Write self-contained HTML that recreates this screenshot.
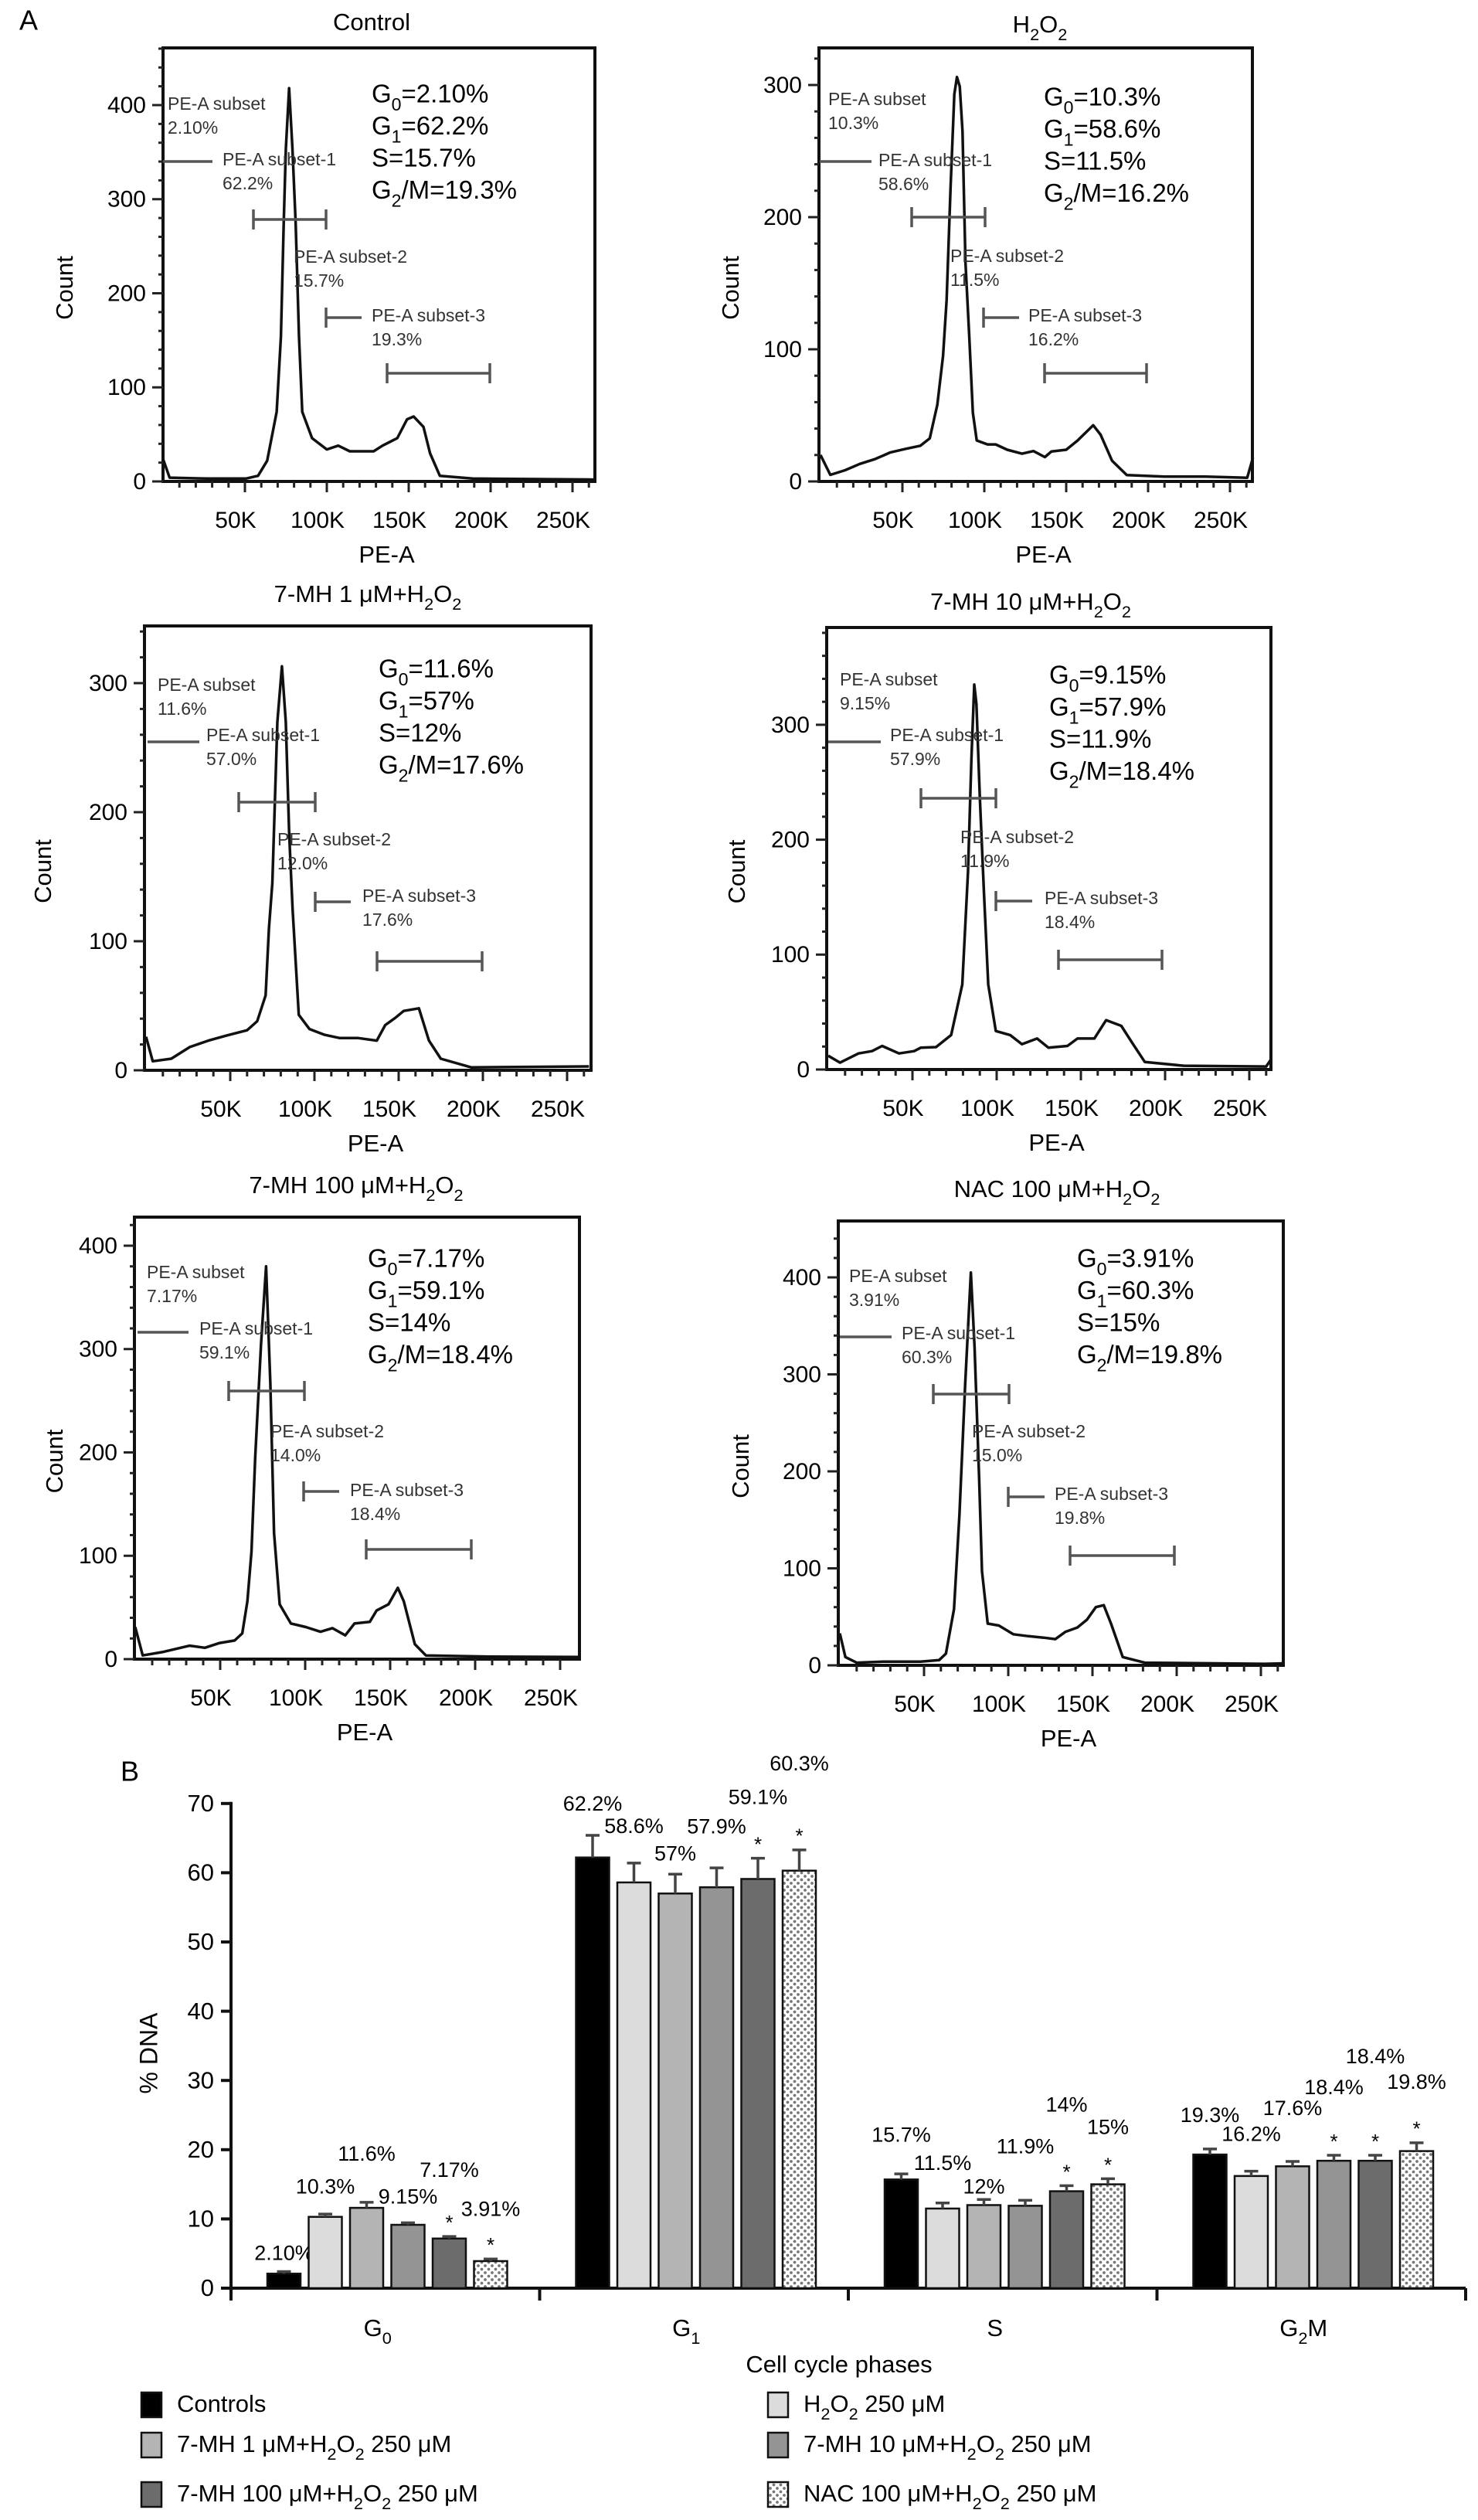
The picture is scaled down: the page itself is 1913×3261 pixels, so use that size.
<!DOCTYPE html>
<html><head><meta charset="utf-8">
<style>
html,body{margin:0;padding:0;background:#fff;}
svg{display:block;font-family:"Liberation Sans",Arial,sans-serif;}
</style></head>
<body>
<svg id="fig" width="1913" height="3261" viewBox="0 0 1913 3261" xmlns="http://www.w3.org/2000/svg">
<defs>
<pattern id="dots" width="9" height="9" patternUnits="userSpaceOnUse">
<rect width="9" height="9" fill="#fff"/>
<circle cx="2.5" cy="2.5" r="1.9" fill="#777"/>
<circle cx="7" cy="7" r="1.9" fill="#777"/>
</pattern>
</defs>
<text x="25" y="29" font-size="36" dominant-baseline="middle">A</text>
<text x="156" y="2295" font-size="36" dominant-baseline="middle">B</text>
<g id="flows"></g>
<g id="bars"></g>
</svg>
<script>
// ---------- flow cytometry histogram data (x in K, y = count) ----------
const controlX = [0,4,27,50.6,58,63.6,69.4,72,73.7,75,77,79,81,83,85,91,100,107,114,128.6,134,143,149,153,159,163,169,189,263];
const controlY = [24,4,3,3,6,22,74,154,274,354,418,354,274,154,74,46,34,38,32,32,38,46,66,69,58,30,6,3,2];
const h2o2X = [0,6,15,24,33.5,42.7,51.8,61,66.7,71.3,74.8,77,79.4,81.7,83.3,85,86.7,88.5,90.8,93,95.4,102,107,114,123,130,137,141,150,157,166.5,171,178,187,210,235,260.5,264];
const h2o2Y = [20,5,8.5,13.3,17,22,24.6,27,32.6,58,95,137,222,293,306,299,265,166,110,52,31,28,28,24,21,23,18.4,22.7,24,31,42.5,35.4,15.6,4.8,3.7,3.7,2.8,18];
const mh1X = [0,4,15,26,37,48,60,66,71,73,75,78,80.7,83,85,87,90.7,97,106,115,126,137,142,148,153,162,168,175,193,263];
const mh1Y = [26,7,9,18,23,27,31,38,58,110,145,270,313,270,183,125,43,32,27.5,25,25,23,35,40.6,46,48,23,9,2.3,3];
const mh10X = [0,7,18,26,32,42,51,55,64,73,79.6,83,85,86.7,88,90,92.4,95,99.5,108,115,124,130.7,142,148,158,165,174,181,188,211,260,263];
const mh10Y = [12,6,14,16,20.5,14,16,19,19.5,30,74,172,270,335,318,237,156,74,33.5,30,22,27,19,20.5,27,27,43,38,22,6.5,3.3,2.6,9];
const mh100X = [0,4.4,16.6,32,41,49.7,58.5,63,66,68.4,70.6,74,77,79.5,81.7,85,91.6,100.4,109,116,123.6,129,138,142,149,154.5,158,164.5,171,208.6,261.6];
const mh100Y = [31,3.6,7,13,11,15.6,18,25,56,104,195,304,380,267,122,53,34.5,31,26.5,30,23,34.5,36,47,53,69,56,14.5,3.6,2.5,2];
const nacX = [0,3.3,10,25.6,47.8,59,63,67.8,71,74.4,77.8,80,82.7,84.4,87.8,94.4,103,112,121,128,134,141,146.7,152,156.7,161,168,181,252,263];
const nacY = [33,8.5,2.7,3.8,3.8,5.4,12,58,155,289,405,328,193,97,43,41,32,30,28.5,27,34.6,39,47,60,62,43,8.5,2.7,1.5,2];
const xTickLabels = ["50K","100K","150K","200K","250K"];
const xTickValues = [50,100,150,200,250];

// ---------- bar chart data ----------
const phases = ["G_0","G_1","S","G_2M"];
const groups = ["Controls","H_2O_2 250 μM","7-MH 1 μM+H_2O_2 250 μM","7-MH 10 μM+H_2O_2 250 μM","7-MH 100 μM+H_2O_2 250 μM","NAC 100 μM+H_2O_2 250 μM"];
const valG0 = [2.10,10.3,11.6,9.15,7.17,3.91];
const valG1 = [62.2,58.6,57,57.9,59.1,60.3];
const valS = [15.7,11.5,12,11.9,14,15];
const valG2M = [19.3,16.2,17.6,18.4,18.4,19.8];
const errG0 = [0.3,0.4,0.8,0.3,0.3,0.3];
const errG1 = [3.2,2.8,2.8,2.8,3.0,3.0];
const errS = [0.8,0.8,0.8,0.8,0.8,0.8];
const errG2M = [0.8,0.7,0.7,0.8,0.8,1.2];
const lblG0 = ["2.10%","10.3%","11.6%","9.15%","7.17%","3.91%"];
const lblG1 = ["62.2%","58.6%","57%","57.9%","59.1%","60.3%"];
const lblS = ["15.7%","11.5%","12%","11.9%","14%","15%"];
const lblG2M = ["19.3%","16.2%","17.6%","18.4%","18.4%","19.8%"];
const starG0 = [0,0,0,0,1,1];
const starG1 = [0,0,0,0,1,1];
const starS = [0,0,0,0,1,1];
const starG2M = [0,0,0,1,1,1];
const yTicksBar = [0,10,20,30,40,50,60,70];

const NS = "http://www.w3.org/2000/svg";
function mk(parent, tag, attrs) {
  const e = document.createElementNS(NS, tag);
  for (const k in attrs) e.setAttribute(k, attrs[k]);
  parent.appendChild(e);
  return e;
}
function subs(s) {
  return s.replace(/_(\d)/g, '<tspan baseline-shift="sub" font-size="70%">$1</tspan>');
}
function txt(parent, x, y, s, size, anchor) {
  const t = mk(parent, "text", {x: x, y: y, "font-size": size, "text-anchor": anchor || "start", "dominant-baseline": "middle"});
  t.innerHTML = subs(s);
  return t;
}

const flows = document.getElementById("flows");
const plots = [
  {name:"control", title:"Control", tx:481, ty:31, L:211, R:770, T:62, B:623, x0:211, p50:106, p100:121.75, yt:[0,100,200,300,400], cx:86,
   X:controlX, Y:controlY, G:["G_0=2.10%","G_1=62.2%","S=15.7%","G_2/M=19.3%"], g:[481,124], s:["2.10%","62.2%","15.7%","19.3%"],
   s0:[217,136], l0:[211,275,209], s1:[288,208], g1:[328,422,284], s2:[380,334], g2:[422,468,411], s3:[481,410], g3:[501,634,483]},
  {name:"h2o2", title:"H_2O_2", tx:1346, ty:34, L:1060, R:1621, T:62, B:623, x0:1062, p50:106, p100:171, yt:[0,100,200,300], cx:948,
   X:h2o2X, Y:h2o2Y, G:["G_0=10.3%","G_1=58.6%","S=11.5%","G_2/M=16.2%"], g:[1351,128], s:["10.3%","58.6%","11.5%","16.2%"],
   s0:[1072,130], l0:[1061,1128,209], s1:[1137,209], g1:[1180,1275,281], s2:[1230,333], g2:[1273,1319,411], s3:[1331,410], g3:[1352,1484,483]},
  {name:"mh1", title:"7-MH 1 μM+H_2O_2", tx:476, ty:771, L:187, R:765, T:810, B:1385, x0:189, p50:109, p100:167, yt:[0,100,200,300], cx:58,
   X:mh1X, Y:mh1Y, G:["G_0=11.6%","G_1=57%","S=12%","G_2/M=17.6%"], g:[490,868], s:["11.6%","57.0%","12.0%","17.6%"],
   s0:[204,888], l0:[191,258,960], s1:[267,953], g1:[309,408,1038], s2:[359,1088], g2:[408,454,1167], s3:[469,1161], g3:[488,624,1244]},
  {name:"mh10", title:"7-MH 10 μM+H_2O_2", tx:1334, ty:781, L:1070, R:1645, T:812, B:1384, x0:1072, p50:109, p100:148.7, yt:[0,100,200,300], cx:956,
   X:mh10X, Y:mh10Y, G:["G_0=9.15%","G_1=57.9%","S=11.9%","G_2/M=18.4%"], g:[1358,876], s:["9.15%","57.9%","11.9%","18.4%"],
   s0:[1087,881], l0:[1072,1140,960], s1:[1152,953], g1:[1192,1289,1033], s2:[1243,1085], g2:[1289,1336,1166], s3:[1352,1164], g3:[1370,1504,1242]},
  {name:"mh100", title:"7-MH 100 μM+H_2O_2", tx:461, ty:1536, L:174, R:750, T:1575, B:2147, x0:175, p50:110, p100:133.75, yt:[0,100,200,300,400], cx:73,
   X:mh100X, Y:mh100Y, G:["G_0=7.17%","G_1=59.1%","S=14%","G_2/M=18.4%"], g:[476,1631], s:["7.17%","59.1%","14.0%","18.4%"],
   s0:[190,1648], l0:[178,244,1724], s1:[258,1721], g1:[296,394,1800], s2:[350,1854], g2:[393,439,1930], s3:[453,1930], g3:[474,610,2005]},
  {name:"nac", title:"NAC 100 μM+H_2O_2", tx:1368, ty:1541, L:1085, R:1661, T:1580, B:2155, x0:1087, p50:109, p100:125.5, yt:[0,100,200,300,400], cx:961,
   X:nacX, Y:nacY, G:["G_0=3.91%","G_1=60.3%","S=15%","G_2/M=19.8%"], g:[1394,1631], s:["3.91%","60.3%","15.0%","19.8%"],
   s0:[1099,1653], l0:[1087,1154,1730], s1:[1167,1727], g1:[1208,1306,1804], s2:[1258,1854], g2:[1305,1352,1937], s3:[1365,1935], g3:[1385,1520,2013]}
];

function gate(g, x1, x2, y, name) {
  const grp = mk(g, "g", {stroke:"#555", "stroke-width":3.5, fill:"none"});
  
  
  mk(grp, "line", {x1:x1, y1:y, x2:x2, y2:y});
  mk(grp, "line", {x1:x1, y1:y-13, x2:x1, y2:y+13});
  mk(grp, "line", {x1:x2, y1:y-13, x2:x2, y2:y+13});
}

plots.forEach(p => {
  const g = mk(flows, "g", {});
  
  
  const xs = v => p.x0 + v / 50 * p.p50;
  const ys = v => p.B - v / 100 * p.p100;
  // title
  const t = txt(g, p.tx, p.ty, p.title, 31, "middle");
  
  
  // box
  const box = mk(g, "rect", {x:p.L, y:p.T, width:p.R-p.L, height:p.B-p.T, fill:"none", stroke:"#111", "stroke-width":4});
  
  
  // y ticks
  const maxC = (p.B - p.T) / p.p100 * 100;
  for (let v = 0; v <= maxC; v += 20) {
    const major = v % 100 === 0;
    mk(g, "line", {x1:p.L - (major ? 14 : 6), y1:ys(v), x2:p.L, y2:ys(v), stroke:"#222", "stroke-width":3});
  }
  p.yt.forEach(v => {
    const tl = txt(g, p.L - 22, ys(v) + 2, String(v), 30, "end");
    
    
  });
  // x ticks
  for (let v = 10; xs(v) < p.R - 3; v += 10) {
    const major = v % 50 === 0;
    mk(g, "line", {x1:xs(v), y1:p.B, x2:xs(v), y2:p.B + (major ? 14 : 8), stroke:"#222", "stroke-width":3});
  }
  xTickValues.forEach((v, i) => {
    const tl = txt(g, xs(v) - 12, p.B + 52, xTickLabels[i], 30, "middle");
    
    
  });
  const xl = txt(g, (p.L + p.R) / 2 + 10, p.B + 97, "PE-A", 31, "middle");
  
  
  const cy = (p.T + p.B) / 2 + 30;
  const yl = txt(g, 0, 0, "Count", 31, "middle");
  yl.setAttribute("transform", "translate(" + p.cx + "," + cy + ") rotate(-90)");
  
  
  // curve
  let d = "";
  p.X.forEach((v, i) => { d += (i ? "L" : "M") + xs(v).toFixed(1) + " " + ys(p.Y[i]).toFixed(1); });
  const path = mk(g, "path", {d:d, fill:"none", stroke:"#111", "stroke-width":3.5, "stroke-linejoin":"round"});
  
  
  // gates
  mk(g, "line", {x1:p.l0[0], y1:p.l0[2], x2:p.l0[1], y2:p.l0[2], stroke:"#555", "stroke-width":3.5});
  gate(g, p.g1[0], p.g1[1], p.g1[2], 'gate-subset-1');
  const g2 = mk(g, "g", {stroke:"#555", "stroke-width":3.5});
  
  
  mk(g2, "line", {x1:p.g2[0], y1:p.g2[2], x2:p.g2[1], y2:p.g2[2]});
  mk(g2, "line", {x1:p.g2[0], y1:p.g2[2]-13, x2:p.g2[0], y2:p.g2[2]+13});
  gate(g, p.g3[0], p.g3[1], p.g3[2], 'gate-subset-3');
  // subset labels
  const subNames = ["PE-A subset","PE-A subset-1","PE-A subset-2","PE-A subset-3"];
  [p.s0, p.s1, p.s2, p.s3].forEach((pos, i) => {
    const a = txt(g, pos[0], pos[1], subNames[i], 23, "start");
    a.setAttribute("fill", "#333");
    
    
    const b = txt(g, pos[0], pos[1] + 31, p.s[i], 23, "start");
    b.setAttribute("fill", "#333");
    
    
  });
  // phase summary
  p.G.forEach((s, i) => {
    const a = txt(g, p.g[0], p.g[1] + i * 41.5, s, 33, "start");
    
    
  });
});

// ---------- bar chart ----------
const bars = document.getElementById("bars");
const AX = 299, Y0 = 2961, PX10 = 89.6, GW = 399.5;
const yB = v => Y0 - v / 10 * PX10;
const vals = [valG0, valG1, valS, valG2M];
const errs = [errG0, errG1, errS, errG2M];
const lbls = [lblG0, lblG1, lblS, lblG2M];
const stars = [starG0, starG1, starS, starG2M];
const lifts = [[22,34,61,32,84,63],[39,46,25,52,77,110],[49,50,15,68,103,65],[42,46,67,86,126,77]];
const fills = ["#000","#dcdcdc","#b4b4b4","#949494","#6c6c6c","url(#dots)"];

yTicksBar.forEach(v => {
  mk(bars, "line", {x1:AX-13, y1:yB(v), x2:AX, y2:yB(v), stroke:"#111", "stroke-width":4});
  const t = txt(bars, AX - 22, yB(v) + 2, String(v), 31, "end");
  
  
});
const yax = mk(bars, "line", {x1:AX, y1:yB(70)-2, x2:AX, y2:Y0+2, stroke:"#111", "stroke-width":4});


const xax = mk(bars, "line", {x1:AX-2, y1:Y0, x2:AX + 4 * GW, y2:Y0, stroke:"#111", "stroke-width":4});


for (let k = 0; k <= 4; k++) mk(bars, "line", {x1:AX + k * GW, y1:Y0, x2:AX + k * GW, y2:Y0 + 16, stroke:"#111", "stroke-width":4});

phases.forEach((ph, gi) => {
  const gx = AX + gi * GW;
  const cl = txt(bars, gx + GW / 2 - 10, 3015, ph, 31, "middle");
  
  
  vals[gi].forEach((v, i) => {
    const x = gx + 47 + i * 53.5, w = 43;
    const r = mk(bars, "rect", {x:x, y:yB(v), width:w, height:Y0 - yB(v), fill:fills[i], stroke:"#111", "stroke-width":2.5});
    
    
    const cx = x + w / 2, top = yB(v + errs[gi][i]);
    const eb = mk(bars, "g", {stroke:"#444", "stroke-width":3.5});
    
    
    mk(eb, "line", {x1:cx, y1:yB(v), x2:cx, y2:top});
    mk(eb, "line", {x1:cx - 9, y1:top, x2:cx + 9, y2:top});
    if (stars[gi][i]) {
      const s = txt(bars, cx, top - 16, "*", 26, "middle");
      
      
    }
    const lt = txt(bars, cx, top - lifts[gi][i], lbls[gi][i], 27, "middle");
    
    
  });
});
const xt = txt(bars, 1086, 3062, "Cell cycle phases", 31, "middle");


const yt = txt(bars, 0, 0, "% DNA", 32, "middle");
yt.setAttribute("transform", "translate(195,2657) rotate(-90)");



// legend
const legX = [183, 994, 183, 994, 183, 994];
const legY = [3112, 3112, 3164, 3164, 3228, 3228];
groups.forEach((gname, i) => {
  const lg = mk(bars, "g", {});
  
  
  mk(lg, "rect", {x:legX[i], y:legY[i] - 16, width:26, height:32, fill:fills[i], stroke:"#111", "stroke-width":2.5});
  txt(lg, legX[i] + 46, legY[i] + 1, gname, 31, "start");
});
</script>
</body></html>
